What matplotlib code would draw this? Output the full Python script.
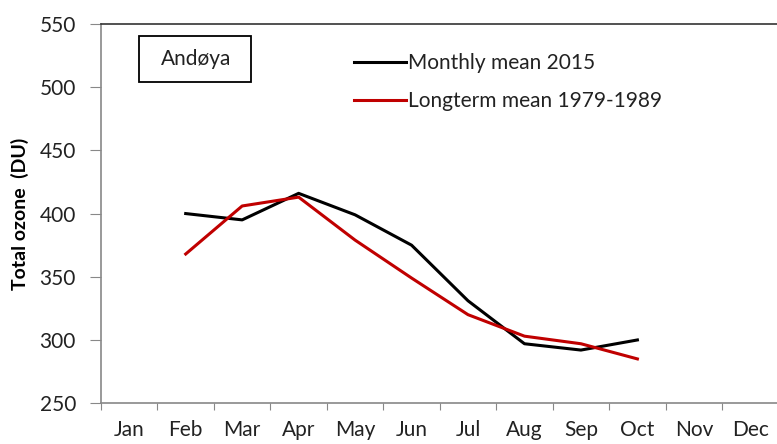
import matplotlib.pyplot as plt
from matplotlib.patches import Rectangle

months = ['Jan', 'Feb', 'Mar', 'Apr', 'May', 'Jun', 'Jul', 'Aug', 'Sep', 'Oct', 'Nov', 'Dec']
# values only for Feb..Oct
data_months = ['Feb', 'Mar', 'Apr', 'May', 'Jun', 'Jul', 'Aug', 'Sep', 'Oct']
monthly_2015 = [400, 395, 416, 399, 375, 331, 297, 292, 300]
longterm_mean = [368, 406, 413, 379, 349, 320, 303, 297, 285]

plt.rcParams['font.family'] = ['Lato', 'DejaVu Sans']

fig = plt.figure(figsize=(7.77, 4.44), dpi=100)
ax = fig.add_axes([0.130, 0.092, 0.872, 0.854])

xs = [months.index(m) for m in data_months]
ax.plot(xs, monthly_2015, color='black', lw=2.2, label='Monthly mean 2015')
ax.plot(xs, longterm_mean, color='#c00000', lw=2.2, label='Longterm mean 1979-1989')

ax.set_xlim(-0.5, 11.5)
ax.set_ylim(250, 550)
ax.set_yticks(range(250, 551, 50))
ax.set_xticks([i - 0.5 for i in range(13)])
ax.set_xticklabels([])
ax.set_xticks(range(12), minor=True)
ax.set_xticklabels(months, minor=True)
ax.tick_params(axis='x', which='minor', length=0, pad=12, labelsize=15, colors='#222222')
ax.tick_params(axis='x', which='major', length=5, color='#888888')
ax.tick_params(axis='y', length=8, color='#888888', labelsize=15, labelcolor='#222222', pad=10)

for s in ['left', 'bottom']:
    ax.spines[s].set_color('#888888')
    ax.spines[s].set_linewidth(1.2)
ax.spines['top'].set_color('#333333')
ax.spines['top'].set_linewidth(1.2)
ax.spines['right'].set_visible(False)

ax.set_ylabel('Total ozone  (DU)', fontsize=14, fontweight='bold', labelpad=8)

ax.add_patch(Rectangle((0.056, 0.847), 0.165, 0.121, transform=ax.transAxes,
                       fc='white', ec='black', lw=1.3))
ax.text(0.14, 0.908, 'Andøya', transform=ax.transAxes, fontsize=15,
        ha='center', va='center', color='#222222')

ax.legend(loc='upper left', bbox_to_anchor=(0.345, 0.973), frameon=False,
          fontsize=15, handlelength=2.5, handletextpad=0.1, labelspacing=0.88,
          labelcolor='#222222')

fig.savefig('out.png', dpi=100)
